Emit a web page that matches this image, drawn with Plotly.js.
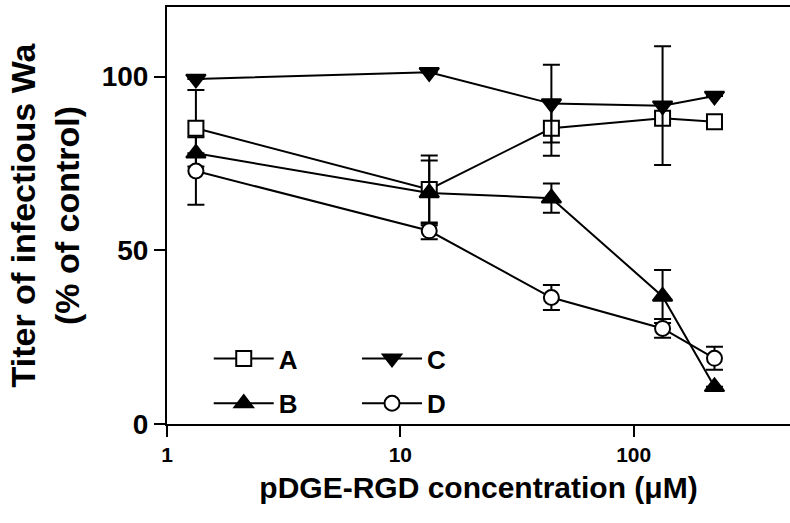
<!DOCTYPE html>
<html>
<head>
<meta charset="utf-8">
<script src="https://cdn.plot.ly/plotly-3.0.1.min.js"></script>
<style>
html,body{margin:0;padding:0;background:#fff;}
#chart{width:790px;height:523px;}
</style>
</head>
<body>
<div id="chart"></div>
<script>
// concentrations (µM)
var conc = [1.33, 13.3, 44.4, 133, 222];
// series values (% of control)
var seriesA = [85.1, 67.5, 85.1, 88.0, 87.0];
var errA    = [11.0, 9.8, 7.9, null, null];
var seriesB = [77.9, 66.5, 65.0, 36.7, 10.7];
var errB    = [null, 9.3, 4.2, 7.6, null];
var seriesC = [99.3, 101.2, 92.2, 91.6, 94.4];
var errC    = [null, null, 11.2, 17.1, null];
var seriesD = [72.8, 55.6, 36.4, 27.5, 18.9];
var errD    = [9.7, 2.4, 3.6, 2.7, 3.3];
var names = ['A', 'B', 'C', 'D'];
var xTicks = [1, 10, 100];
var xTickText = ['1', '10', '100'];
var yTicks = [0, 50, 100];

var FONT = 'Liberation Sans, Arial, Helvetica, sans-serif';

function mk(name, y, err, symbol, fill, size, legendId) {
  return {
    x: conc, y: y, name: name, type: 'scatter', mode: 'lines+markers',
    legend: legendId, legendgroup: name,
    line: {color: '#000', width: 2},
    marker: {symbol: symbol, size: size, color: fill, line: {color: '#000', width: 2}},
    error_y: {type: 'data', array: err, visible: true, color: '#000', thickness: 2, width: 8.5},
    cliponaxis: false
  };
}

var traces = [
  mk(names[0], seriesA, errA, 'square', '#fff', 15, 'legend'),
  mk(names[1], seriesB, errB, 'triangle-up', '#000', 17, 'legend'),
  mk(names[2], seriesC, errC, 'triangle-down', '#000', 17, 'legend2'),
  mk(names[3], seriesD, errD, 'circle', '#fff', 15, 'legend2')
];

var legendCommon = {
  bgcolor: 'rgba(0,0,0,0)', borderwidth: 0,
  font: {family: FONT, size: 26, weight: 'bold', color: '#000'},
  tracegroupgap: 8, itemwidth: 60, yanchor: 'middle', xanchor: 'left',
  orientation: 'v'
};

var layout = {
  width: 790, height: 523,
  margin: {l: 167, r: 0, t: 7, b: 99, pad: 0},
  paper_bgcolor: '#fff', plot_bgcolor: '#fff',
  font: {family: FONT, color: '#000'},
  showlegend: true,
  legend: Object.assign({}, legendCommon, {x: 0.067, y: 0.103}),
  legend2: Object.assign({}, legendCommon, {x: 0.305, y: 0.103}),
  xaxis: {
    type: 'log', range: [0, 2.67],
    tickvals: xTicks, ticktext: xTickText,
    ticks: 'outside', ticklen: 11, tickwidth: 2, tickcolor: '#000',
    showline: true, linewidth: 2, linecolor: '#000', mirror: true,
    showgrid: false, zeroline: false,
    tickfont: {family: FONT, size: 21, weight: 'bold', color: '#000'},
    title: {text: 'pDGE-RGD concentration (μM)', standoff: 12,
            font: {family: FONT, size: 30, weight: 'bold', color: '#000'}}
  },
  yaxis: {
    range: [0, 120],
    tickvals: yTicks,
    ticks: 'outside', ticklen: 11, tickwidth: 2, tickcolor: '#000',
    showline: true, linewidth: 2, linecolor: '#000', mirror: false,
    showgrid: false, zeroline: false,
    tickfont: {family: FONT, size: 28, weight: 'bold', color: '#000'},
    title: {text: 'Titer of infectious Wa<br>(% of control)', standoff: 12,
            font: {family: FONT, size: 34, weight: 'bold', color: '#000'}}
  }
};

Plotly.newPlot('chart', traces, layout, {displayModeBar: false, staticPlot: true});
</script>
</body>
</html>
